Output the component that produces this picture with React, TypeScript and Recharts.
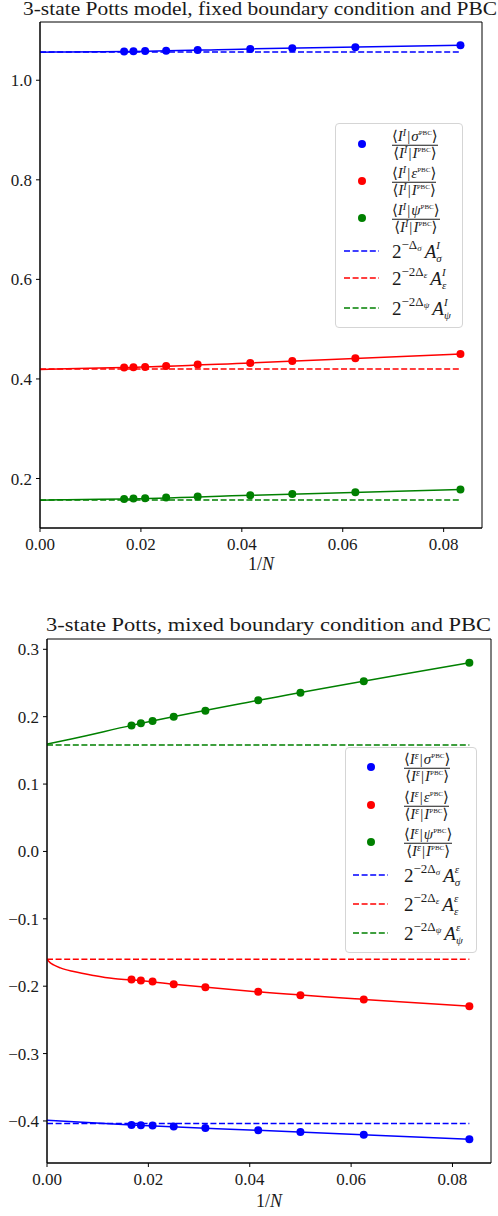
import React from 'react';
import { ComposedChart, Scatter, Line, XAxis, YAxis, Legend, ReferenceArea, Label } from 'recharts';

// 1/N for N = 60, 54, 48, 40, 32, 24, 20, 16, 12
const invN = [0.01667, 0.01852, 0.02083, 0.025, 0.03125, 0.04167, 0.05, 0.0625, 0.08333];

// fixed boundary condition
const fixedSigma = [1.0577, 1.058, 1.0585, 1.0595, 1.061, 1.063, 1.0645, 1.0665, 1.0704];
const fixedEps = [0.4228, 0.4235, 0.4242, 0.4262, 0.4289, 0.4322, 0.4362, 0.4416, 0.4503];
const fixedPsi = [0.159, 0.1597, 0.1604, 0.1617, 0.1638, 0.1664, 0.1691, 0.1725, 0.1779];
const fixedLimits = [1.0565, 0.4201, 0.157]; // sigma, eps, psi

const fitX = [0, 0.00526, 0.01667, 0.04167, 0.08333];
const fixedSigmaFit = [1.0563, 1.0569, 1.0577, 1.063, 1.0704];
const fixedEpsFit = [0.4188, 0.4205, 0.4228, 0.4322, 0.4503];
const fixedPsiFit = [0.1564, 0.1575, 0.159, 0.1664, 0.1779];

// mixed boundary condition
const mixedSigma = [-0.4059, -0.4064, -0.4069, -0.4084, -0.4104, -0.4139, -0.4163, -0.4203, -0.4272];
const mixedEps = [-0.1901, -0.1916, -0.1931, -0.197, -0.2015, -0.2084, -0.2133, -0.2197, -0.2296];
const mixedPsi = [0.1871, 0.1901, 0.1936, 0.2, 0.2089, 0.2243, 0.2356, 0.2525, 0.2802];
const mixedLimits = [-0.4036, -0.16, 0.1579];

const mixedSigmaFit = [-0.399, -0.4012, -0.4059, -0.4139, -0.4272];
const mixedPsiFit = [0.1594, 0.1677, 0.1871, 0.2243, 0.2802];
const mixedEpsFitX = [0, 0.00066, 0.0013, 0.00263, 0.00526, 0.0092, 0.0131, 0.01667, 0.025, 0.04167, 0.0625, 0.08333];
const mixedEpsFit = [-0.16, -0.1654, -0.1684, -0.1728, -0.1783, -0.1842, -0.1887, -0.1906, -0.197, -0.2084, -0.2197, -0.2296];

const xTicks = [0, 0.02, 0.04, 0.06, 0.08];
const fixedYTicks = [0.2, 0.4, 0.6, 0.8, 1.0];
const mixedYTicks = [-0.4, -0.3, -0.2, -0.1, 0, 0.1, 0.2, 0.3];

const BLUE = '#0000ff';
const RED = '#ff0000';
const GREEN = '#008000';
const ink = '#1a1a1a';
const serif = 'Liberation Serif, DejaVu Serif, serif';
const X_MAX = 0.0876;
const X_END = 0.08333;

const pts = (xs: number[], ys: number[]) => xs.map((x, i) => ({ x, y: ys[i] }));
const flat = (v: number) => [{ x: 0, y: v }, { x: X_END, y: v }];

const Dot = (color: string) => (p: any) => <circle cx={p.cx} cy={p.cy} r={4} fill={color} />;

const fmtY = (v: number) => (v < 0 ? '\u2212' + Math.abs(v).toFixed(1) : v.toFixed(1));

const Sup = ({ children, size, up }: any) => (
  <span style={{ fontSize: size, position: 'relative', top: -up, lineHeight: 1 }}>{children}</span>
);

const Ket = ({ a, b }: any) => (
  <span>
    {'\u27E8'}
    {a}
    <span style={{ margin: '0 1px' }}>|</span>
    {b}
    {'\u27E9'}
  </span>
);

const Frac = ({ num, den }: any) => (
  <span style={{ display: 'inline-flex', flexDirection: 'column', alignItems: 'center', lineHeight: 1.05, fontSize: 15 }}>
    <span>{num}</span>
    <span style={{ borderTop: `1px solid ${ink}`, alignSelf: 'stretch', textAlign: 'center' }}>{den}</span>
  </span>
);

const ratio = (bnd: string, op: string) => (
  <Frac
    num={<Ket a={<><i>I</i><Sup size={10} up={5}><i>{bnd}</i></Sup></>} b={<><i>{op}</i><Sup size={7} up={6}>PBC</Sup></>} />}
    den={<Ket a={<><i>I</i><Sup size={10} up={5}><i>{bnd}</i></Sup></>} b={<><i>I</i><Sup size={7} up={6}>PBC</Sup></>} />}
  />
);

// A with stacked super/subscript, e.g. 2^{-2Δ_ε} A^I_ε
const amp = (pre: string, op: string, bnd: string) => (
  <span style={{ fontSize: 19, lineHeight: 1, display: 'inline-flex', alignItems: 'center' }}>
    2
    <Sup size={13} up={7}>
      {'\u2212'}
      {pre}Δ
    </Sup>
    <Sup size={9} up={3}><i>{op}</i></Sup>
    <span style={{ marginLeft: 3 }}><i>A</i></span>
    <span style={{ display: 'inline-flex', flexDirection: 'column', fontSize: 11, lineHeight: 1.2, marginTop: 2 }}>
      <i>{bnd}</i>
      <i>{op}</i>
    </span>
  </span>
);

type Entry = { color: string; kind: 'dot' | 'dash'; cy: number; label: React.ReactNode };

const LegendBox = ({ entries, width, height, markX, dashX, textX }: any) => (
  <div
    style={{
      position: 'relative',
      width,
      height,
      boxSizing: 'border-box',
      border: '1px solid #d5d5d5',
      borderRadius: 4,
      background: 'rgba(255,255,255,0.85)',
      fontFamily: serif,
      color: ink,
    }}
  >
    {entries.map((e: Entry, i: number) => (
      <div key={i} style={{ position: 'absolute', left: 0, top: e.cy, width: '100%' }}>
        <svg width={width} height={10} style={{ position: 'absolute', left: 0, top: -5 }}>
          {e.kind === 'dot' ? (
            <circle cx={markX} cy={5} r={4} fill={e.color} />
          ) : (
            <line x1={dashX[0]} x2={dashX[1]} y1={5} y2={5} stroke={e.color} strokeWidth={1.5} strokeDasharray="6 2.6" />
          )}
        </svg>
        <div style={{ position: 'absolute', left: textX, top: 0, transform: 'translateY(-50%)', whiteSpace: 'nowrap' }}>
          {e.label}
        </div>
      </div>
    ))}
  </div>
);

const AxisTitle = (props: any) => {
  const vb = props.viewBox;
  return (
    <text x={vb.x + vb.width / 2} y={vb.y + props.dy} textAnchor="middle" fontFamily={serif} fontSize={18} fill={ink}>
      1/<tspan fontStyle="italic">N</tspan>
    </text>
  );
};

const Title = ({ text, x, y, len }: any) => (
  <svg width={498} height={30} style={{ position: 'absolute', left: 0, top: y - 22 }}>
    <text x={x} y={22} fontFamily={serif} fontSize={19} fill={ink} textLength={len} lengthAdjust="spacingAndGlyphs">
      {text}
    </text>
  </svg>
);

const tickStyle = { fontSize: 17, fontFamily: serif, fill: ink };

function PottsPanel(props: any) {
  const { top, height, margin, yWidth, yDomain, yTicks, series, fits, limits, legend, xLabelDy } = props;
  const colors = [BLUE, RED, GREEN];
  return (
    <div style={{ position: 'absolute', left: 0, top, width: 498, height }}>
      <ComposedChart width={498} height={height} margin={margin}>
        <XAxis
          type="number"
          dataKey="x"
          domain={[0, X_MAX]}
          allowDataOverflow
          ticks={xTicks}
          tickFormatter={(v: number) => v.toFixed(2)}
          tick={tickStyle}
          tickSize={4}
          tickMargin={6}
          height={30}
          stroke="#000"
          interval={0}
        >
          <Label content={<AxisTitle dy={xLabelDy} />} />
        </XAxis>
        <YAxis
          type="number"
          dataKey="y"
          domain={yDomain}
          allowDataOverflow
          ticks={yTicks}
          tickFormatter={fmtY}
          tick={tickStyle}
          tickSize={4}
          tickMargin={4}
          width={yWidth}
          stroke="#000"
          interval={0}
        />
        {limits.map((v: number, i: number) => (
          <Line
            key={'lim' + i}
            data={flat(v)}
            dataKey="y"
            stroke={colors[i]}
            strokeWidth={1.5}
            strokeDasharray="6 2.6"
            dot={false}
            isAnimationActive={false}
            legendType="none"
          />
        ))}
        {fits.map((f: any, i: number) => (
          <Line
            key={'fit' + i}
            type="monotone"
            data={f}
            dataKey="y"
            stroke={colors[i]}
            strokeWidth={1.5}
            dot={false}
            isAnimationActive={false}
            legendType="none"
          />
        ))}
        {series.map((s: any, i: number) => (
          <Scatter key={'pts' + i} data={s} fill={colors[i]} shape={Dot(colors[i])} isAnimationActive={false} />
        ))}
        <ReferenceArea x1={0} x2={X_MAX} y1={yDomain[0]} y2={yDomain[1]} fill="none" stroke="#000" strokeWidth={1} />
        <Legend
          layout="horizontal"
          verticalAlign="middle"
          align="center"
          wrapperStyle={{ left: legend.left, top: legend.top, width: legend.width, height: legend.height }}
          content={() => <LegendBox {...legend} />}
        />
      </ComposedChart>
    </div>
  );
}

export default function App() {
  const fixedLegend = {
    left: 335,
    top: 123,
    width: 128,
    height: 205,
    markX: 26,
    dashX: [8, 43],
    textX: 56,
    entries: [
      { color: BLUE, kind: 'dot', cy: 20, label: ratio('I', 'σ') },
      { color: RED, kind: 'dot', cy: 57, label: ratio('I', 'ε') },
      { color: GREEN, kind: 'dot', cy: 94, label: ratio('I', 'ψ') },
      { color: BLUE, kind: 'dash', cy: 127, label: amp('', 'σ', 'I') },
      { color: RED, kind: 'dash', cy: 154, label: amp('2', 'ε', 'I') },
      { color: GREEN, kind: 'dash', cy: 184, label: amp('2', 'ψ', 'I') },
    ],
  };
  const mixedLegend = {
    left: 345,
    top: 147,
    width: 132,
    height: 206,
    markX: 25,
    dashX: [7, 42],
    textX: 58,
    entries: [
      { color: BLUE, kind: 'dot', cy: 19, label: ratio('ε', 'σ') },
      { color: RED, kind: 'dot', cy: 57, label: ratio('ε', 'ε') },
      { color: GREEN, kind: 'dot', cy: 94, label: ratio('ε', 'ψ') },
      { color: BLUE, kind: 'dash', cy: 127, label: amp('2', 'σ', 'ε') },
      { color: RED, kind: 'dash', cy: 156, label: amp('2', 'ε', 'ε') },
      { color: GREEN, kind: 'dash', cy: 185, label: amp('2', 'ψ', 'ε') },
    ],
  };

  return (
    <div style={{ position: 'absolute', left: 0, top: 0, width: 498, height: 1216, background: '#fff' }}>
      <PottsPanel
        top={0}
        height={600}
        margin={{ top: 22, right: 16, bottom: 42, left: 0 }}
        yWidth={40}
        yDomain={[0.1006, 1.117]}
        yTicks={fixedYTicks}
        series={[pts(invN, fixedSigma), pts(invN, fixedEps), pts(invN, fixedPsi)]}
        fits={[pts(fitX, fixedSigmaFit), pts(fitX, fixedEpsFit), pts(fitX, fixedPsiFit)]}
        limits={fixedLimits}
        legend={fixedLegend}
        xLabelDy={42}
      />
      <PottsPanel
        top={600}
        height={616}
        margin={{ top: 39, right: 7, bottom: 23, left: 0 }}
        yWidth={47}
        yDomain={[-0.4624, 0.3153]}
        yTicks={mixedYTicks}
        series={[pts(invN, mixedSigma), pts(invN, mixedEps), pts(invN, mixedPsi)]}
        fits={[pts(fitX, mixedSigmaFit), pts(mixedEpsFitX, mixedEpsFit), pts(fitX, mixedPsiFit)]}
        limits={mixedLimits}
        legend={mixedLegend}
        xLabelDy={44}
      />
      <Title text="3-state Potts model, fixed boundary condition and PBC" x={23} y={15} len={474} />
      <Title text="3-state Potts, mixed boundary condition and PBC" x={46} y={631} len={445} />
    </div>
  );
}
